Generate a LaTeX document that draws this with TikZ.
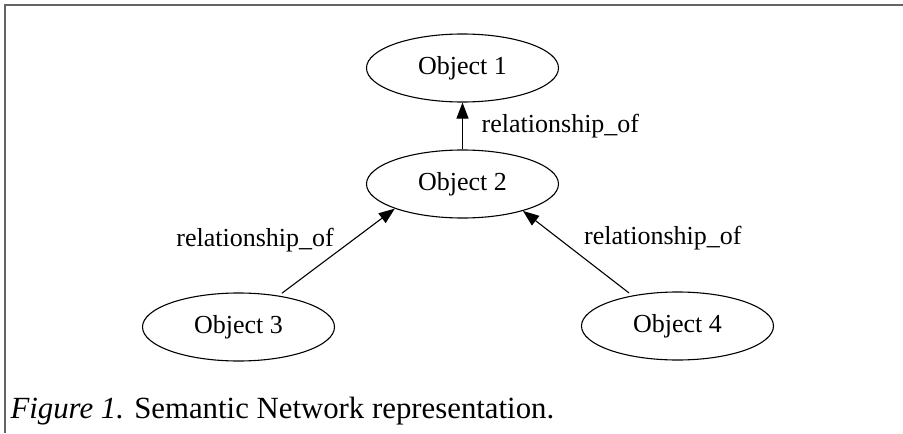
\documentclass[tikz,border=0pt]{standalone}
\usepackage{fontspec}
\setmainfont{Liberation Serif}
\usepackage{tikz}
\usetikzlibrary{arrows.meta,shapes,positioning}
\definecolor{framegray}{RGB}{100,100,100}

\begin{document}
\begin{tikzpicture}[x=0.5pt,y=-0.5pt,->,>={Triangle[length=8pt,width=6pt]},line width=0.55pt,node distance=58pt,font=\fontsize{13}{15.6}\selectfont]
 \tikzstyle{obj}=[ellipse,draw,inner sep=0pt,minimum width=96pt,minimum height=34pt]
 \tikzstyle{rel}=[draw=none,inner sep=3.33pt]
 \useasboundingbox (0,0) rectangle (903,433);

   % frame
   \draw[-,framegray,line width=1pt] (5,433) -- (5,5) -- (903,5);

   \node[obj] (o1) at (462.5,68) {Object 1};
   \node[obj] (o2) [below of = o1] {Object 2};
   \node[obj] (o3) at (238.5,327) {Object 3};
   \node[obj] (o4) at (677.5,326) {Object 4};

     \path[->]
    (o2) edge  node[rel,right=6pt] {relationship\_of} (o1)
    (o3.38) edge [shorten <=2pt] node[rel,pos=0.64,left=6pt] {relationship\_of} (o2.200)
    (o4.146) edge [shorten <=2pt] node[rel,pos=0.68,right=9.5pt] {relationship\_of} (o2.336);

   \node[anchor=base west,inner sep=0pt,font=\fontsize{15.4}{18}\selectfont] (cap) at (10,418) {\textit{Figure 1.} Semantic Network representation.};
\end{tikzpicture}
\end{document}
